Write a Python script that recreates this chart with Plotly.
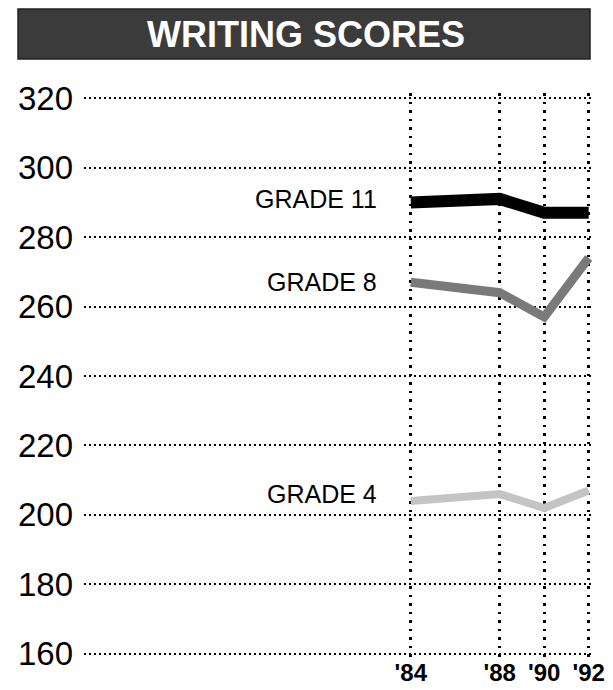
import plotly.graph_objects as go

years = [1984, 1988, 1990, 1992]
year_labels = ["'84", "'88", "'90", "'92"]
grade11 = [290, 291, 287, 287]
grade8 = [267, 264, 257, 274]
grade4 = [204, 206, 202, 207]
y_ticks = [160, 180, 200, 220, 240, 260, 280, 300, 320]
title_text = "WRITING SCORES"

FONT = "Liberation Sans, Arial, Helvetica, sans-serif"

fig = go.Figure()

series = [
    ("GRADE 4", grade4, "#c4c4c4", 8, 7),
    ("GRADE 8", grade8, "#7a7a7a", 9, 0),
    ("GRADE 11", grade11, "#000000", 12, 3),
]
for name, vals, color, width, yshift in series:
    fig.add_trace(go.Scatter(
        x=years, y=vals, mode="lines", name=name,
        line=dict(color=color, width=width),
        showlegend=False, hoverinfo="skip",
    ))
    fig.add_annotation(
        x=years[0], y=vals[0], text=name, showarrow=False,
        xanchor="right", yanchor="middle", xshift=-32, yshift=yshift,
        font=dict(family=FONT, size=25, color="black"),
    )

# Title banner
fig.add_shape(type="rect", xref="paper", yref="paper",
              x0=-0.1299, x1=0.9961, y0=1.0601, y1=1.1484,
              fillcolor="#3b3b3b", line=dict(color="#222222", width=1.5),
              layer="above")
fig.add_annotation(xref="paper", yref="paper", x=0.437, y=1.1042,
                   text="<b>" + title_text + "</b>", showarrow=False,
                   xanchor="center", yanchor="middle",
                   font=dict(family=FONT, size=36, color="white"))

fig.update_layout(
    width=613, height=690,
    margin=dict(l=84, r=21, t=93, b=31),
    paper_bgcolor="white", plot_bgcolor="white",
    xaxis=dict(
        range=[1969.3, 1992.15], automargin=False,
        tickmode="array", tickvals=years, ticktext=year_labels,
        showgrid=True, gridcolor="black", gridwidth=2.5, griddash="2.5px,6px",
        zeroline=False, showline=False, ticks="",
        tickfont=dict(family=FONT, size=24, color="black", weight="bold"),
        ticklabelstandoff=-3,
    ),
    yaxis=dict(
        range=[158.5, 321.5], automargin=False,
        tickmode="array", tickvals=y_ticks,
        showgrid=True, gridcolor="black", gridwidth=1.5, griddash="1.5px,3.5px",
        zeroline=False, showline=False, ticks="",
        tickfont=dict(family=FONT, size=33, color="black"),
        ticklabelstandoff=10,
    ),
)

fig.write_html("out.html", config={"displayModeBar": False},
               post_script="document.body.style.margin='0';")
